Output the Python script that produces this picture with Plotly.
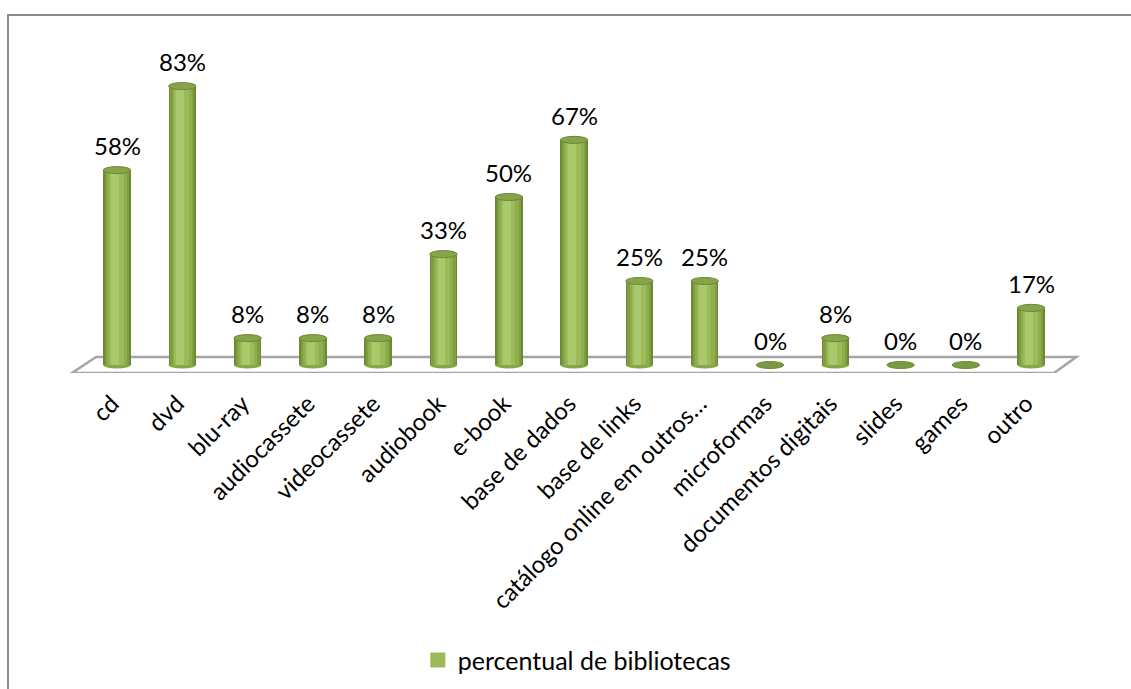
import plotly.graph_objects as go

# Survey results: share of libraries offering each type of material
categories = [
    "cd", "dvd", "blu-ray", "audiocassete", "videocassete", "audiobook",
    "e-book", "base de dados", "base de links", "catálogo online em outros…",
    "microformas", "documentos digitais", "slides", "games", "outro",
]
values = [58, 83, 8, 8, 8, 33, 50, 67, 25, 25, 0, 8, 0, 0, 17]
series_name = "percentual de bibliotecas"

W, H = 1131, 689
FLOOR_PX = 373          # pixel row of the plot-area bottom (front edge of floor)
FONT = "Lato"

x = list(range(len(categories)))

# cylinder shading: wide dark layer first, then narrower lighter layers
layers = [
    (0.42, 0.00, "#6e8934"),
    (0.37, 0.00, "#7f9e40"),
    (0.30, 0.00, "#8eae4d"),
    (0.22, -0.01, "#9bbb59"),
    (0.12, -0.03, "#aac96c"),
]

fig = go.Figure()
for w, off, col in layers:
    fig.add_trace(go.Bar(
        x=[xi + off for xi in x], y=values, width=w,
        marker=dict(color=col, line=dict(width=0)),
        name=series_name, showlegend=False, hoverinfo="skip",
    ))

# legend entry with a larger square swatch
fig.add_trace(go.Scatter(
    x=[None], y=[None], mode="markers", name=series_name,
    marker=dict(symbol="square", size=15, color="#9bbb59"),
    showlegend=True,
))

shapes = []
# floor of the 3D plot
shapes.append(dict(
    type="path", xref="x", yref="y", layer="below",
    path="M -0.69,-2.38 L 14.35,-2.38 L 14.69,2.38 L -0.32,2.38 Z",
    line=dict(color="#a5a5a5", width=2.5), fillcolor="white",
))
R = 0.21   # cylinder radius in category units
E = 1.05   # half height of the end ellipses in value units
for xi, v in zip(x, values):
    if v > 0:
        shapes.append(dict(
            type="circle", xref="x", yref="y", layer="below",
            x0=xi - R, x1=xi + R, y0=-E, y1=E,
            fillcolor="#86a648", line=dict(width=0),
        ))
    shapes.append(dict(
        type="circle", xref="x", yref="y", layer="above",
        x0=xi - R, x1=xi + R, y0=v - E, y1=v + E,
        fillcolor="#86a54b" if v > 0 else "#7b9a43",
        line=dict(color="#6e8934", width=1),
    ))

# outer chart frame
top_paper = (FLOOR_PX - 15) / FLOOR_PX
bottom_paper = (FLOOR_PX - H - 5) / FLOOR_PX
shapes.append(dict(
    type="path", xref="paper", yref="paper", layer="above",
    path=f"M {8/W},{bottom_paper} L {8/W},{top_paper} L {1.01},{top_paper}",
    line=dict(color="#8a8a8a", width=2),
))

annotations = []
for xi, v in zip(x, values):
    annotations.append(dict(
        x=xi, y=v, xref="x", yref="y", text=f"{v}%", showarrow=False,
        yanchor="bottom", yshift=8,
        font=dict(family=FONT, size=24, color="black"),
    ))

px_per_unit_x = 65.3
x0_px = 117
y_per_px = 1 / 3.36
fig.update_layout(
    width=W, height=H,
    margin=dict(l=0, r=0, t=0, b=H - FLOOR_PX, pad=0),
    paper_bgcolor="white", plot_bgcolor="white",
    barmode="overlay", bargap=0,
    shapes=shapes, annotations=annotations,
    showlegend=True,
    legend=dict(
        orientation="h", x=0.51, xanchor="center", y=-0.77, yanchor="middle",
        font=dict(family=FONT, size=25, color="black"),
        itemwidth=30, bgcolor="rgba(0,0,0,0)",
    ),
    xaxis=dict(
        range=[-x0_px / px_per_unit_x, (W - x0_px) / px_per_unit_x],
        tickmode="array", tickvals=x, ticktext=categories,
        tickangle=-45, showgrid=False, zeroline=False, showline=False,
        ticks="", ticklabelstandoff=11, ticklabelshift=-5,
        tickfont=dict(family=FONT, size=24, color="black"),
        fixedrange=True,
    ),
    yaxis=dict(
        range=[-8 * y_per_px, FLOOR_PX * y_per_px - 8 * y_per_px],
        visible=False, fixedrange=True,
    ),
)

fig.write_html("out.html")
